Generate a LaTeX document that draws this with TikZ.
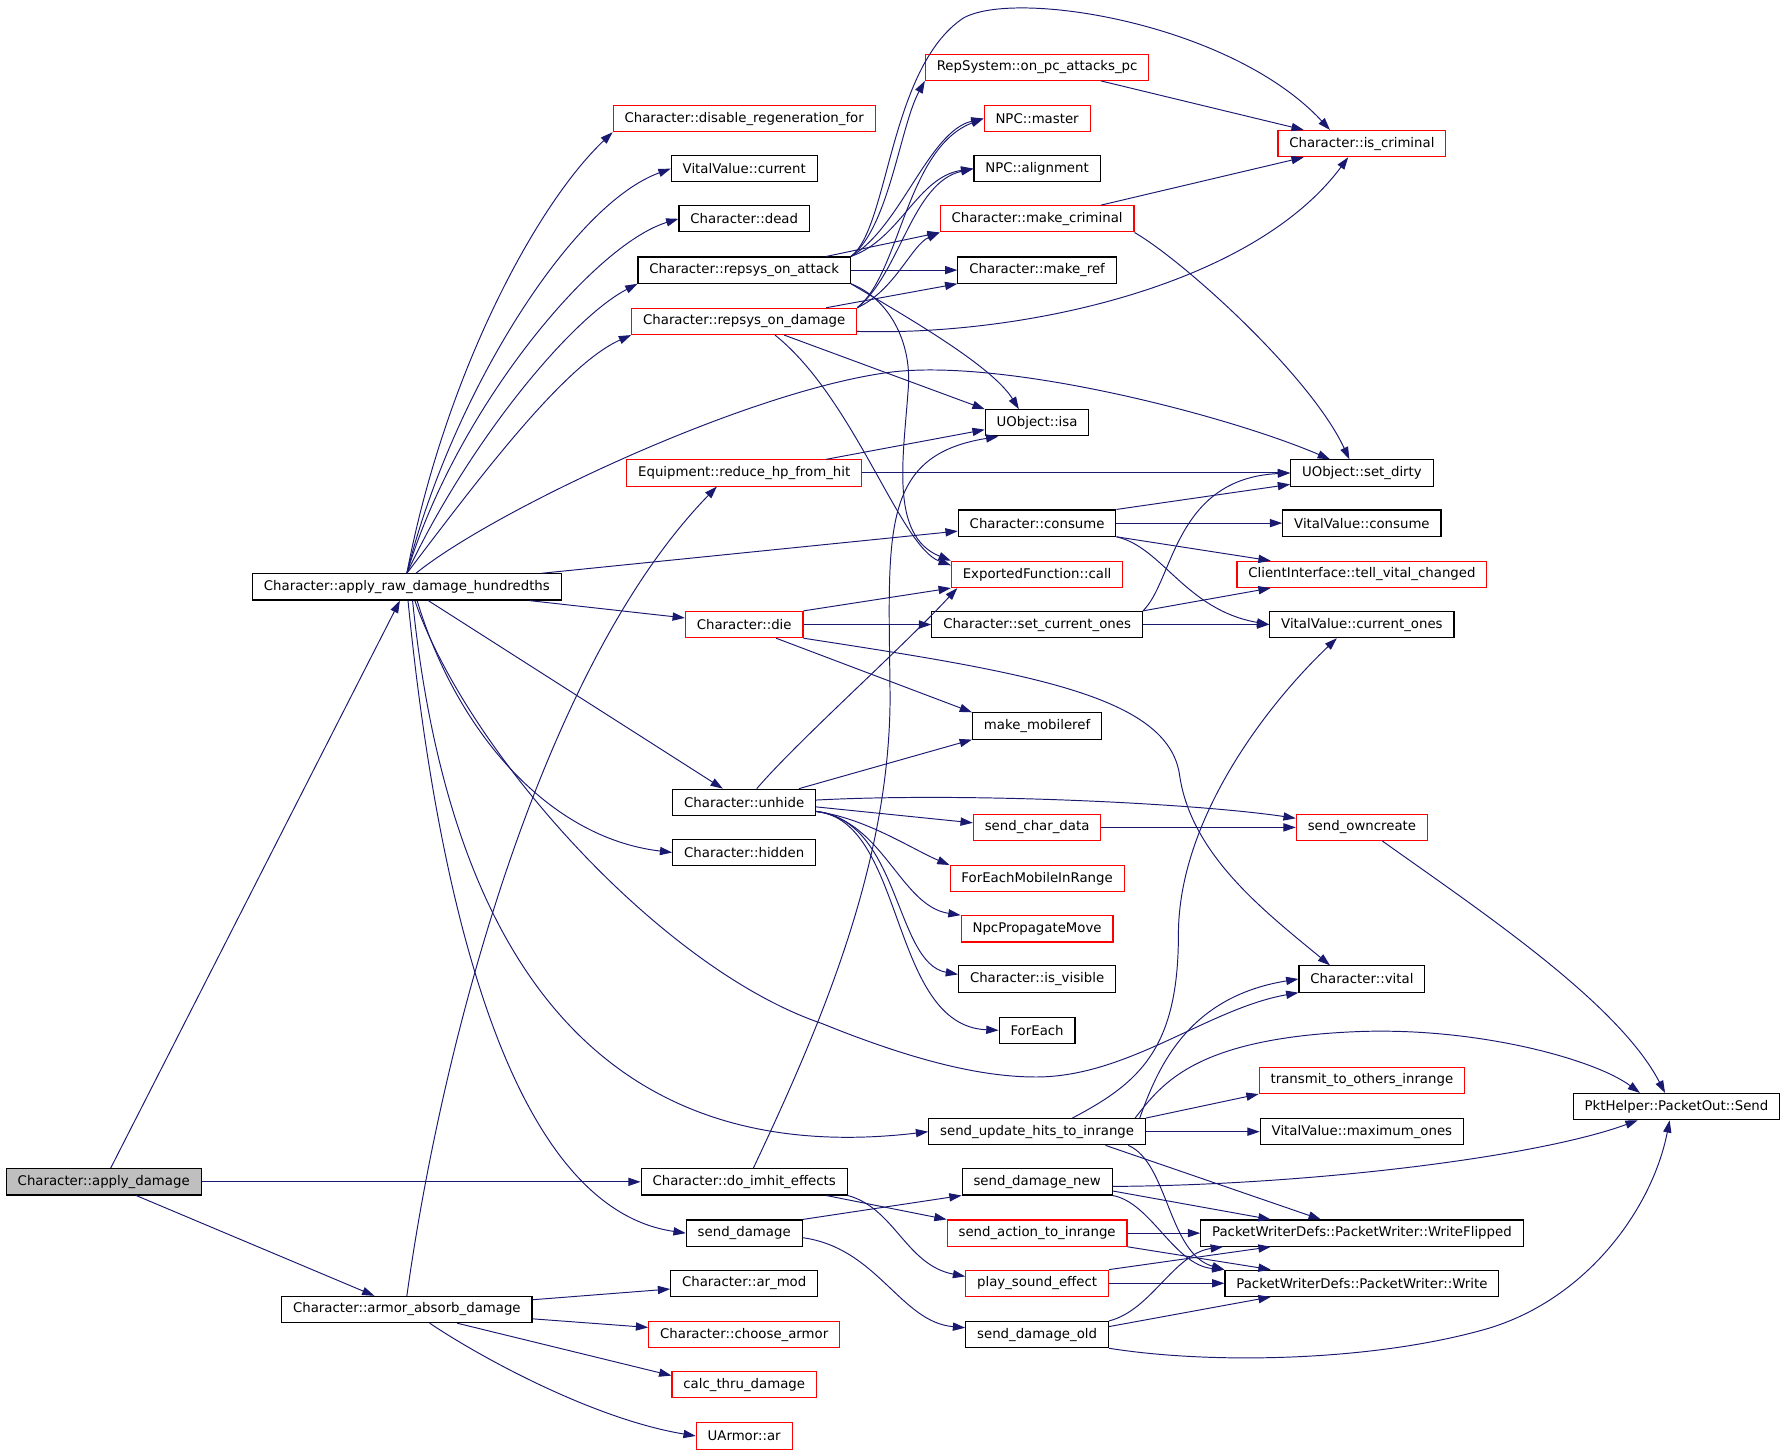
\documentclass[tikz,border=0pt]{standalone}
\usepackage{fontspec}
\setmainfont{DejaVu Sans}
\usepackage{tikz}
\usetikzlibrary{arrows.meta}

\definecolor{edgeblue}{RGB}{25,25,112}
\definecolor{rootgray}{RGB}{191,191,191}

\tikzset{
  fn/.style={draw=black, fill=white, line width=0.7pt, inner xsep=0.25cm, inner ysep=0pt,
    minimum height=0.575cm, font=\fontsize{8.3}{10}\selectfont},
  fnred/.style={fn, draw=red},
  fnroot/.style={fn, fill=rootgray},
  call/.style={draw=edgeblue, line width=0.6pt, -{Triangle[length=2.7mm,width=1.8mm]}},
}

\begin{document}
\begin{tikzpicture}[x=0.025cm, y=-0.025cm]
\useasboundingbox (0,0) rectangle (1568,1277);

% Nodes
\node[fnroot] (applyDamage) at (91,1037) {Character::apply\_damage};
\node[fn] (applyRaw) at (357,515) {Character::apply\_raw\_damage\_hundredths};
\node[fn] (armorAbsorb) at (357,1149) {Character::armor\_absorb\_damage};

\node[fnred] (disableRegen) at (653,104) {Character::disable\_regeneration\_for};
\node[fn] (vvCurrent) at (653,148) {VitalValue::current};
\node[fn] (dead) at (653,192) {Character::dead};
\node[fn] (repsysAttack) at (653,237) {Character::repsys\_on\_attack};
\node[fnred] (repsysDamage) at (653,282) {Character::repsys\_on\_damage};
\node[fnred] (reduceHp) at (653,415) {Equipment::reduce\_hp\_from\_hit};
\node[fnred] (die) at (653,548) {Character::die};
\node[fn] (unhide) at (653,704) {Character::unhide};
\node[fn] (hidden) at (653,748) {Character::hidden};
\node[fn] (doImhit) at (653,1037) {Character::do\_imhit\_effects};
\node[fn] (sendDamage) at (653,1082) {send\_damage};
\node[fn] (arMod) at (653,1126) {Character::ar\_mod};
\node[fnred] (chooseArmor) at (653,1171) {Character::choose\_armor};
\node[fnred] (calcThru) at (653,1215) {calc\_thru\_damage};
\node[fnred] (uarmorAr) at (653,1260) {UArmor::ar};

\node[fnred] (repOnPc) at (910,59) {RepSystem::on\_pc\_attacks\_pc};
\node[fnred] (npcMaster) at (910,104) {NPC::master};
\node[fn] (npcAlign) at (910,148) {NPC::alignment};
\node[fnred] (makeCriminal) at (910,192) {Character::make\_criminal};
\node[fn] (makeRef) at (910,237) {Character::make\_ref};
\node[fn] (uobjIsa) at (910,371) {UObject::isa};
\node[fn] (consume) at (910,459) {Character::consume};
\node[fnred] (exportedCall) at (910,504) {ExportedFunction::call};
\node[fn] (setCurrentOnes) at (910,548) {Character::set\_current\_ones};
\node[fn] (makeMobileref) at (910,637) {make\_mobileref};
\node[fnred] (sendCharData) at (910,726) {send\_char\_data};
\node[fnred] (forEachMobile) at (910,771) {ForEachMobileInRange};
\node[fnred] (npcPropagate) at (910,815) {NpcPropagateMove};
\node[fn] (isVisible) at (910,859) {Character::is\_visible};
\node[fn] (forEach) at (910,904) {ForEach};
\node[fn] (sendUpdateHits) at (910,993) {send\_update\_hits\_to\_inrange};
\node[fn] (sendDamageNew) at (910,1037) {send\_damage\_new};
\node[fnred] (sendAction) at (910,1082) {send\_action\_to\_inrange};
\node[fnred] (playSound) at (910,1126) {play\_sound\_effect};
\node[fn] (sendDamageOld) at (910,1171) {send\_damage\_old};

\node[fnred] (isCriminal) at (1195,126) {Character::is\_criminal};
\node[fn] (setDirty) at (1195,415) {UObject::set\_dirty};
\node[fn] (vvConsume) at (1195,459) {VitalValue::consume};
\node[fnred] (tellVital) at (1195,504) {ClientInterface::tell\_vital\_changed};
\node[fn] (currentOnes) at (1195,548) {VitalValue::current\_ones};
\node[fnred] (sendOwncreate) at (1195,726) {send\_owncreate};
\node[fn] (vitalNode) at (1195,859) {Character::vital};
\node[fnred] (transmit) at (1195,948) {transmit\_to\_others\_inrange};
\node[fn] (maximumOnes) at (1195,993) {VitalValue::maximum\_ones};
\node[fn] (writeFlipped) at (1195,1082) {PacketWriterDefs::PacketWriter::WriteFlipped};
\node[fn] (writeP) at (1195,1126) {PacketWriterDefs::PacketWriter::Write};
\node[fn] (pktSend) at (1471,971) {PktHelper::PacketOut::Send};

% Arrows
\draw[call] (applyDamage) -- (applyRaw);
\draw[call] (applyDamage) -- (doImhit);
\draw[call] (applyDamage) -- (armorAbsorb);

\draw[call] (armorAbsorb.north) .. controls (390,900) and (480,580) .. ([xshift=-6mm]reduceHp.south);
\draw[call] (armorAbsorb) -- (arMod);
\draw[call] (armorAbsorb) -- (chooseArmor);
\draw[call] ([xshift=11mm]armorAbsorb.south) -- ([yshift=2mm]calcThru.west);
\draw[call] ([xshift=5mm]armorAbsorb.south) .. controls (420,1190) and (520,1245) .. (uarmorAr.west);

% apply_raw_damage_hundredths
\draw[call] (applyRaw.north) .. controls (390,330) and (470,180) .. (disableRegen.south west);
\draw[call] (applyRaw.north) .. controls (395,350) and (500,180) .. (vvCurrent.west);
\draw[call] (applyRaw.north) .. controls (400,360) and (520,215) .. (dead.west);
\draw[call] (applyRaw.north) .. controls (410,390) and (500,280) .. (repsysAttack.south west);
\draw[call] (applyRaw.north) .. controls (420,420) and (495,320) .. (repsysDamage.south west);
\draw[call] ([xshift=2mm]applyRaw.north) .. controls (430,450) and (650,345) .. (778,327)
  .. controls (878,313) and (1076,364) .. ([xshift=-7mm]setDirty.north);
\draw[call] (applyRaw) -- (consume);
\draw[call] (applyRaw) -- (die);
\draw[call] (applyRaw) -- (unhide);
\draw[call] ([xshift=2.25mm]applyRaw.south) .. controls (400,640) and (480,735) .. (hidden.west);
\draw[call] ([xshift=1.75mm]applyRaw.south) .. controls (410,660) and (580,850) .. (721,898)
  .. controls (800,930) and (860,945) .. (909,945)
  .. controls (990,945) and (1060,885) .. (vitalNode.south west);
\draw[call] ([xshift=1.25mm]applyRaw.south) .. controls (390,800) and (500,1030) .. (sendUpdateHits.west);
\draw[call] ([xshift=0.25mm]applyRaw.south) .. controls (385,800) and (450,1060) .. (sendDamage.west);

% repsys_on_attack
\draw[call] (repsysAttack.north east) .. controls (780,200) and (790,110) .. (repOnPc.south west);
\draw[call] (repsysAttack.north east) .. controls (790,200) and (815,115) .. (npcMaster.west);
\draw[call] (repsysAttack.north east) .. controls (790,210) and (805,155) .. (npcAlign.west);
\draw[call] ([xshift=18mm]repsysAttack.north) -- (makeCriminal.south west);
\draw[call] (repsysAttack) -- (makeRef);
\draw[call] (repsysAttack.south east) .. controls (790,275) and (870,320) .. ([xshift=-4mm]uobjIsa.north);
\draw[call] (repsysAttack.north east) .. controls (780,200) and (780,60) .. (845,16)
  .. controls (890,-10) and (1080,20) .. ([xshift=-7mm]isCriminal.north);
\draw[call] (repsysAttack.south east) .. controls (780,262) and (800,300) .. (797,340)
  .. controls (793,400) and (780,470) .. (exportedCall.north west);

% repsys_on_damage
\draw[call] (repsysDamage.north east) .. controls (790,240) and (795,130) .. (npcMaster.west);
\draw[call] (repsysDamage.north east) .. controls (790,240) and (800,160) .. (npcAlign.west);
\draw[call] (repsysDamage.north east) .. controls (785,255) and (800,215) .. (makeCriminal.south west);
\draw[call] ([xshift=18mm]repsysDamage.north) -- (makeRef.south west);
\draw[call] ([xshift=8.75mm]repsysDamage.south) -- (uobjIsa.north west);
\draw[call] ([yshift=-2.2mm]repsysDamage.east) .. controls (900,295) and (1100,250) .. ([xshift=-3mm]isCriminal.south);
\draw[call] ([xshift=6.75mm]repsysDamage.south) .. controls (750,350) and (790,480) .. ([yshift=-1mm]exportedCall.north west);

% is_criminal, set_dirty
\draw[call] ([xshift=14mm]repOnPc.south) -- ([xshift=-12.75mm]isCriminal.north);
\draw[call] ([xshift=14mm]makeCriminal.north) -- ([xshift=-12.75mm]isCriminal.south);
\draw[call] (makeCriminal.south east) .. controls (1040,230) and (1150,330) .. ([xshift=-2.75mm]setDirty.north);
\draw[call] ([xshift=18mm]reduceHp.north) -- ([yshift=-1.5mm]uobjIsa.west);
\draw[call] (reduceHp) -- (setDirty);

% consume
\draw[call] (consume.north east) -- ([yshift=-2.5mm]setDirty.west);
\draw[call] (consume) -- (vvConsume);
\draw[call] (consume.south east) -- ([xshift=-2cm]tellVital.north);
\draw[call] (consume.south east) .. controls (1020,480) and (1040,535) .. (currentOnes.west);

% die
\draw[call] (die.north east) -- (exportedCall.south west);
\draw[call] (die) -- (setCurrentOnes);
\draw[call] ([xshift=7mm]die.south) -- (makeMobileref.north west);
\draw[call] (die.south east) .. controls (900,590) and (1025,610) .. (1035,680)
  .. controls (1045,750) and (1110,800) .. ([xshift=-7mm]vitalNode.north);

% set_current_ones
\draw[call] (setCurrentOnes.north east) .. controls (1030,510) and (1030,420) .. (setDirty.west);
\draw[call] (setCurrentOnes.north east) -- ([xshift=-2cm]tellVital.south);
\draw[call] (setCurrentOnes) -- (currentOnes);

% unhide
\draw[call] ([xshift=2.75mm]unhide.north) .. controls (700,650) and (790,570) .. ([xshift=-1.75cm]exportedCall.south);
\draw[call] ([xshift=1.2cm]unhide.north) -- (makeMobileref.south west);
\draw[call] ([yshift=0.05cm]unhide.east) .. controls (850,695) and (1050,705) .. ([yshift=0.2cm]sendOwncreate.west);
\draw[call] ([yshift=-0.1cm]unhide.east) -- ([yshift=0.1cm]sendCharData.west);
\draw[call] ([yshift=-0.2cm]unhide.east) .. controls (760,718) and (800,745) .. (forEachMobile.north west);
\draw[call] ([yshift=-0.2cm]unhide.east) .. controls (775,720) and (790,795) .. (npcPropagate.north west);
\draw[call] ([yshift=-0.2cm]unhide.east) .. controls (790,720) and (785,845) .. ([yshift=0.1cm]isVisible.west);
\draw[call] ([yshift=-0.2cm]unhide.east) .. controls (795,720) and (780,900) .. (forEach.west);
\draw[call] (sendCharData) -- (sendOwncreate);
\draw[call] ([xshift=0.45cm]sendOwncreate.south) .. controls (1300,800) and (1420,880) .. ([xshift=-0.25cm]pktSend.north);

% do_imhit_effects
\draw[call] ([xshift=2mm]doImhit.north) .. controls (720,900) and (780,760) .. (781,614)
  .. controls (780,470) and (770,400) .. ([xshift=-0.85cm]uobjIsa.south);
\draw[call] ([xshift=1.8cm]doImhit.south) -- (sendAction.north west);
\draw[call] (doImhit.south east) .. controls (785,1060) and (795,1110) .. ([yshift=0.15cm]playSound.west);

% send_damage
\draw[call] (sendDamage.north east) -- (sendDamageNew.south west);
\draw[call] ([yshift=-0.1cm]sendDamage.east) .. controls (770,1095) and (790,1160) .. ([yshift=0.15cm]sendDamageOld.west);

% send_update_hits_to_inrange
\draw[call] ([xshift=0.775cm]sendUpdateHits.north) .. controls (1000,950) and (1034,920) .. (1034,820)
  .. controls (1034,720) and (1110,620) .. ([xshift=-0.55cm]currentOnes.south);
\draw[call] ([xshift=2.25cm]sendUpdateHits.north) .. controls (1015,940) and (1040,875) .. (vitalNode.west);
\draw[call] ([xshift=2.15cm]sendUpdateHits.north) .. controls (1020,950) and (1050,910) .. (1196,905)
  .. controls (1300,902) and (1400,930) .. ([xshift=-0.8cm]pktSend.north);
\draw[call] (sendUpdateHits.north east) -- (transmit.south west);
\draw[call] (sendUpdateHits) -- (maximumOnes);
\draw[call] ([xshift=1.5cm]sendUpdateHits.south) -- ([xshift=-0.9cm]writeFlipped.north);
\draw[call] ([xshift=2cm]sendUpdateHits.south) .. controls (1025,1020) and (1025,1100) .. (writeP.north west);

% send_damage_new
\draw[call] ([yshift=-0.1cm]sendDamageNew.east) .. controls (1150,1040) and (1350,1015) .. ([xshift=-0.85cm]pktSend.south);
\draw[call] ([yshift=-0.2cm]sendDamageNew.east) -- ([xshift=-2cm]writeFlipped.north);
\draw[call] (sendDamageNew.south east) .. controls (1010,1055) and (1030,1110) .. (writeP.north west);

% send_action_to_inrange, play_sound_effect
\draw[call] (sendAction) -- (writeFlipped);
\draw[call] (sendAction.south east) -- ([xshift=-2cm]writeP.north);
\draw[call] (playSound.north east) -- ([xshift=-2cm]writeFlipped.south);
\draw[call] (playSound) -- (writeP);

% send_damage_old
\draw[call] (sendDamageOld.north east) .. controls (1010,1150) and (1030,1100) .. ([xshift=0.5cm]writeFlipped.south west);
\draw[call] ([yshift=0.175cm]sendDamageOld.east) -- ([xshift=-2cm]writeP.south);
\draw[call] (sendDamageOld.south east) .. controls (1060,1197) and (1200,1195) .. (1301,1167)
  .. controls (1392,1142) and (1450,1060) .. ([xshift=-0.15cm]pktSend.south);
\end{tikzpicture}
\end{document}
